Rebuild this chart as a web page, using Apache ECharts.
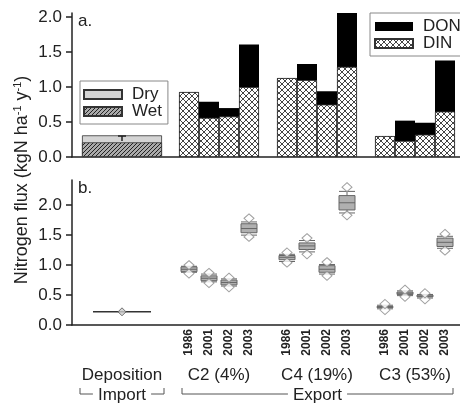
<!DOCTYPE html>
<html>
<head>
<meta charset="utf-8">
<script src="https://cdn.jsdelivr.net/npm/echarts@6/dist/echarts.min.js"></script>
<style>
  html, body { margin: 0; padding: 0; background: #fff; }
  #chart { width: 460px; height: 405px; }
</style>
</head>
<body>
<div id="chart"></div>
<script>
// catchments and sampling years (panel a bars, panel b boxes)
const groupNames = ['C2 (4%)', 'C4 (19%)', 'C3 (53%)'];
const years = ['1986', '2001', '2002', '2003'];

// panel a: export fluxes, kgN/ha/y
const dinFlux = [0.93, 0.56, 0.58, 1.00, 1.13, 1.10, 0.75, 1.29, 0.30, 0.23, 0.32, 0.65];
const donFlux = [0.00, 0.23, 0.12, 0.61, 0.00, 0.23, 0.19, 0.77, 0.00, 0.29, 0.17, 0.73];

// panel a: deposition import
const depositionWet = [0.21];
const depositionDry = [0.10];
const depositionErr = [0.23, 0.30];

// panel b: total export distributions
const diamondLow  = [0.86, 0.70, 0.63, 1.47, 1.04, 1.18, 0.82, 1.83, 0.25, 0.47, 0.43, 1.24];
const whiskerLow  = [0.88, 0.72, 0.65, 1.50, 1.06, 1.22, 0.85, 1.87, 0.27, 0.49, 0.45, 1.28];
const boxQ1       = [0.89, 0.74, 0.67, 1.54, 1.09, 1.26, 0.88, 1.92, 0.29, 0.51, 0.47, 1.31];
const boxMedian   = [0.93, 0.78, 0.71, 1.61, 1.13, 1.32, 0.93, 2.04, 0.30, 0.53, 0.48, 1.38];
const boxQ3       = [0.97, 0.82, 0.75, 1.69, 1.16, 1.37, 0.99, 2.16, 0.31, 0.55, 0.50, 1.45];
const whiskerHigh = [0.98, 0.85, 0.77, 1.72, 1.18, 1.41, 1.01, 2.23, 0.33, 0.57, 0.51, 1.48];
const diamondHigh = [1.00, 0.87, 0.79, 1.78, 1.21, 1.45, 1.05, 2.30, 0.35, 0.59, 0.53, 1.52];
const depositionFlux = [0.22];

const fluxTicks = [0, 0.5, 1.0, 1.5, 2.0];
const bracketNames = ['Import', 'Export'];

// x layout, in bar-width units
const X_MAX = 19.4;
const DEP_X = 2.5;
const FIRST_X = 5.85;
const GROUP_STRIDE = 4.9;
const barX = k => FIRST_X + Math.floor(k / years.length) * GROUP_STRIDE + (k % years.length);

const FONT = '"Liberation Sans", Arial, sans-serif';
const INK = '#222';

function pattern(size, bg, fg, draw) {
  const c = document.createElement('canvas');
  c.width = c.height = size;
  const ctx = c.getContext('2d');
  ctx.fillStyle = bg;
  ctx.fillRect(0, 0, size, size);
  ctx.strokeStyle = fg;
  ctx.lineWidth = 1;
  ctx.beginPath();
  draw(ctx, size);
  ctx.stroke();
  return { image: c, repeat: 'repeat' };
}

const dinFill = pattern(6, '#fff', '#444', (ctx, s) => {
  ctx.moveTo(0, 0); ctx.lineTo(s, s);
  ctx.moveTo(s, 0); ctx.lineTo(0, s);
});
const wetFill = pattern(4, '#aaa', '#222', (ctx, s) => {
  ctx.moveTo(-1, s + 1); ctx.lineTo(s + 1, -1);
  ctx.moveTo(-1, 1); ctx.lineTo(1, -1);
  ctx.moveTo(s - 1, s + 1); ctx.lineTo(s + 1, s - 1);
});

const axisLine = { color: INK, width: 1.5 };

function yAxisFor(gridIndex, max) {
  return {
    type: 'value', gridIndex, min: 0, max,
    axisLine: { show: true, lineStyle: axisLine },
    axisTick: { show: true, length: 6, lineStyle: axisLine, customValues: fluxTicks },
    axisLabel: {
      customValues: fluxTicks, formatter: v => v.toFixed(1),
      fontSize: 17, color: INK, fontFamily: FONT, margin: 10
    },
    splitLine: { show: false }
  };
}

function xAxisFor(gridIndex, show) {
  return {
    type: 'value', gridIndex, min: 0, max: X_MAX, show,
    axisLine: { show: true, onZero: false, lineStyle: axisLine },
    axisTick: { show: false }, axisLabel: { show: false }, splitLine: { show: false }
  };
}

const legendCommon = {
  orient: 'vertical', icon: 'rect', itemWidth: 38, itemHeight: 9, itemGap: 0,
  selectedMode: false, backgroundColor: '#fff', borderColor: '#888', borderWidth: 1,
  textStyle: { fontSize: 17, color: INK, fontFamily: FONT, lineHeight: 17, padding: [0, 0, 0, 5] }
};

const groupCenters = [DEP_X].concat(groupNames.map((_, g) =>
  (barX(g * years.length) + barX(g * years.length + years.length - 1)) / 2));
const groupLabels = ['Deposition'].concat(groupNames);
const bracketSpans = [[DEP_X - 2.1, DEP_X + 2.1], [barX(0) - 0.35, barX(dinFlux.length - 1) + 0.4]];

// stacked look: the top component is drawn as the full total, the lower one overlaid on it
const exportTotal = dinFlux.map((v, k) => v + donFlux[k]);
const depositionTotal = depositionWet.map((v, k) => v + depositionDry[k]);

const chart = echarts.init(document.getElementById('chart'));

chart.setOption({
  animation: false,
  textStyle: { fontFamily: FONT },
  grid: [
    { left: 72, right: 0, top: 13, height: 144 },
    { left: 72, right: 0, top: 180, height: 145 }
  ],
  xAxis: [xAxisFor(0, true), xAxisFor(1, true), xAxisFor(0, false)],
  yAxis: [yAxisFor(0, 2.06), yAxisFor(1, 2.42)],
  legend: [
    Object.assign({}, legendCommon, { data: ['Dry', 'Wet'], left: 80, top: 81, padding: [5, 6, 4, 3] }),
    Object.assign({}, legendCommon, { data: ['DON', 'DIN'], left: 370, top: 13, padding: [5, 6, 4, 4] })
  ],
  graphic: [
    { type: 'text', left: 78, top: 13, style: { text: 'a.', fontSize: 17, fill: INK, fontFamily: FONT } },
    { type: 'text', left: 78, top: 180, style: { text: 'b.', fontSize: 17, fill: INK, fontFamily: FONT } },
    {
      type: 'text', x: 22, y: 180, rotation: Math.PI / 2,
      style: {
        text: '{n|Nitrogen flux (kgN ha}{s|-1}{n| y}{s|-1}{n|)}',
        align: 'center', verticalAlign: 'middle', fill: INK,
        rich: {
          n: { fontSize: 18, fontFamily: FONT, fill: INK, lineHeight: 20 },
          s: { fontSize: 11, fontFamily: FONT, fill: INK, verticalAlign: 'top', lineHeight: 20 }
        }
      }
    }
  ],
  series: [
    {
      name: 'Dry', type: 'bar', xAxisIndex: 2, yAxisIndex: 0, barWidth: 80, barGap: '-100%',
      data: depositionTotal.map(v => [DEP_X, v]),
      itemStyle: { color: '#d4d4d4', borderColor: '#333', borderWidth: 0.8 }
    },
    {
      name: 'Wet', type: 'bar', xAxisIndex: 2, yAxisIndex: 0, barWidth: 80, barGap: '-100%',
      data: depositionWet.map(v => [DEP_X, v]),
      itemStyle: { color: wetFill, borderColor: '#333', borderWidth: 0.8 }
    },
    {
      name: 'DON', type: 'bar', xAxisIndex: 0, yAxisIndex: 0, barWidth: 20, barGap: '-100%',
      data: exportTotal.map((v, k) => [barX(k), v]),
      itemStyle: { color: '#000' }
    },
    {
      name: 'DIN', type: 'bar', xAxisIndex: 0, yAxisIndex: 0, barWidth: 20, barGap: '-100%',
      data: dinFlux.map((v, k) => [barX(k), v]),
      itemStyle: { color: dinFill, borderColor: '#333', borderWidth: 0.8 }
    },
    {
      type: 'custom', xAxisIndex: 2, yAxisIndex: 0, z: 5, silent: true,
      data: [[DEP_X, depositionErr[0], depositionErr[1]]],
      renderItem: (params, api) => {
        const lo = api.coord([api.value(0), api.value(1)]);
        const hi = api.coord([api.value(0), api.value(2)]);
        const st = { stroke: '#222', lineWidth: 1.5 };
        return {
          type: 'group', children: [
            { type: 'line', shape: { x1: lo[0], y1: lo[1], x2: hi[0], y2: hi[1] }, style: st },
            { type: 'line', shape: { x1: hi[0] - 4, y1: hi[1], x2: hi[0] + 4, y2: hi[1] }, style: st }
          ]
        };
      }
    },
    {
      type: 'boxplot', xAxisIndex: 1, yAxisIndex: 1, boxWidth: [16, 16], silent: true,
      data: boxMedian.map((m, k) => [barX(k), whiskerLow[k], boxQ1[k], m, boxQ3[k], whiskerHigh[k]]),
      itemStyle: { color: '#b0b0b0', borderColor: '#666', borderWidth: 1 }
    },
    {
      type: 'scatter', xAxisIndex: 1, yAxisIndex: 1, symbol: 'diamond', symbolSize: [10, 9], z: 3, silent: true,
      data: diamondLow.map((v, k) => [barX(k), v]).concat(diamondHigh.map((v, k) => [barX(k), v])),
      itemStyle: { color: '#fff', borderColor: '#888', borderWidth: 1 }
    },
    {
      type: 'line', xAxisIndex: 1, yAxisIndex: 1, symbol: 'none', silent: true,
      data: [[DEP_X - 1.45, depositionFlux[0]], [DEP_X + 1.45, depositionFlux[0]]],
      lineStyle: { color: '#333', width: 1.5 }
    },
    {
      type: 'scatter', xAxisIndex: 1, yAxisIndex: 1, symbol: 'diamond', symbolSize: [8, 8], z: 3, silent: true,
      data: depositionFlux.map(v => [DEP_X, v]),
      itemStyle: { color: '#ccc', borderColor: '#555', borderWidth: 1 }
    },
    {
      // year labels under each bar
      type: 'custom', xAxisIndex: 1, yAxisIndex: 1, silent: true,
      data: dinFlux.map((_, k) => [barX(k), 0]),
      renderItem: (params, api) => {
        const p = api.coord([api.value(0), 0]);
        return {
          type: 'text', x: p[0], y: p[1] + 4, rotation: Math.PI / 2,
          style: {
            text: years[params.dataIndex % years.length], align: 'right', verticalAlign: 'middle',
            fill: INK, fontSize: 12, fontWeight: 'bold', fontFamily: FONT
          }
        };
      }
    },
    {
      // group labels
      type: 'custom', xAxisIndex: 1, yAxisIndex: 1, silent: true,
      data: groupCenters.map(x => [x, 0]),
      renderItem: (params, api) => {
        const p = api.coord([api.value(0), 0]);
        return {
          type: 'text', x: p[0], y: p[1] + 50,
          style: {
            text: groupLabels[params.dataIndex], align: 'center', verticalAlign: 'middle',
            fill: INK, fontSize: 17, fontFamily: FONT
          }
        };
      }
    },
    {
      // import / export brackets
      type: 'custom', xAxisIndex: 1, yAxisIndex: 1, silent: true,
      data: bracketSpans,
      renderItem: (params, api) => {
        const a = api.coord([api.value(0), 0]);
        const b = api.coord([api.value(1), 0]);
        const y = a[1] + 69;
        return {
          type: 'group', children: [
            {
              type: 'polyline',
              shape: { points: [[a[0], y - 6], [a[0], y], [b[0], y], [b[0], y - 6]] },
              style: { stroke: '#555', lineWidth: 1, fill: null }
            },
            {
              type: 'text', x: (a[0] + b[0]) / 2, y: y + 1, z2: 10,
              style: {
                text: bracketNames[params.dataIndex], align: 'center', verticalAlign: 'middle',
                fill: INK, fontSize: 17, fontFamily: FONT, backgroundColor: '#fff', padding: [0, 5]
              }
            }
          ]
        };
      }
    }
  ]
});
</script>
</body>
</html>
